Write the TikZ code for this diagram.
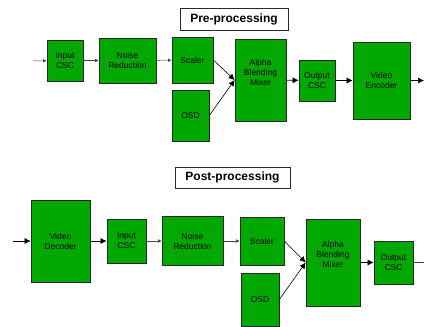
\documentclass[tikz,border=0pt]{standalone}
\usepackage{fontspec}
\setmainfont{Liberation Sans}
\usetikzlibrary{arrows.meta}
\definecolor{blockgreen}{RGB}{0, 168, 0}
\definecolor{edgegray}{RGB}{40, 40, 40}

\begin{document}
\begin{tikzpicture}[x=1pt, y=-1pt, font=\fontsize{8.5}{10}\selectfont,
        blk/.style={rectangle, draw=edgegray, line width=0.7pt, fill=blockgreen,
                    inner sep=1pt, align=center},
        ttl/.style={rectangle, draw=edgegray, line width=0.6pt, fill=white,
                    font=\fontsize{12}{14}\selectfont\bfseries},
        sarr/.style={-{Latex[length=3.5pt, width=3.5pt]}, line width=0.5pt, black!75},
        arr/.style={-{Latex[length=6pt, width=6pt]}, line width=0.6pt, black}]
        \useasboundingbox (0,0) rectangle (424,327);
        % pre-processing
        \node[ttl, minimum width=108pt, minimum height=22pt] (tA) at (234,19) {Pre-processing};
        \coordinate (srcA) at (33,61);
        \node[blk, minimum width=36pt, minimum height=41pt] (inA) at (65,60.5) {Input\\CSC};
        \node[blk, minimum width=57pt, minimum height=45pt] (nrA) at (127.5,60.5) {Noise\\Reduction};
        \node[blk, minimum width=41pt, minimum height=46pt] (scA) at (192.5,60) {Scaler};
        \node[blk, minimum width=37pt, minimum height=51pt] (osdA) at (190.5,115.5) {OSD};
        \node[blk, minimum width=51pt, minimum height=82pt] (mixA) at (260.5,80) {Alpha\\Blending\\Mixer\\[6pt]};
        \node[blk, minimum width=36pt, minimum height=41pt] (outA) at (317,80.5) {Output\\CSC};
        \node[blk, minimum width=57pt, minimum height=77pt] (encA) at (381.5,80.5) {Video\\Encoder};
        \coordinate (dstA) at (424,80.5);
        \foreach \a/\b in {srcA/inA, inA/nrA, nrA/scA}
            \draw[sarr] (\a) -- (\b);
        \draw[arr] (scA.east) -- (mixA.west);
        \draw[arr] (osdA.east) -- (mixA.west);
        \foreach \a/\b in {mixA/outA, outA/encA, encA/dstA}
            \draw[arr] (\a) -- (\b);
        % post-processing
        \node[ttl, minimum width=115pt, minimum height=21pt] (tB) at (232.5,177.5) {Post-processing};
        \coordinate (srcB) at (13,241);
        \node[blk, minimum width=59pt, minimum height=82pt] (decB) at (60.5,241) {Video\\Decoder};
        \node[blk, minimum width=39pt, minimum height=44pt] (inB) at (126.5,241) {Input\\CSC};
        \node[blk, minimum width=61pt, minimum height=49pt] (nrB) at (192.5,241) {Noise\\Reduction};
        \node[blk, minimum width=44pt, minimum height=48pt] (scB) at (262,241) {Scaler};
        \node[blk, minimum width=38pt, minimum height=53pt] (osdB) at (260,299.5) {OSD};
        \node[blk, minimum width=54pt, minimum height=87pt] (mixB) at (333,262.5) {Alpha\\Blending\\Mixer\\[6pt]};
        \node[blk, minimum width=39pt, minimum height=43pt] (outB) at (393.5,262.5) {Output\\CSC};
        \coordinate (dstB) at (424,262.5);
        \foreach \a/\b in {srcB/decB, decB/inB}
            \draw[arr] (\a) -- (\b);
        \foreach \a/\b in {inB/nrB, nrB/scB}
            \draw[sarr] (\a) -- (\b);
        \draw[arr] (scB.east) -- (mixB.west);
        \draw[arr] (osdB.east) -- (mixB.west);
        \draw[arr] (mixB) -- (outB);
        \draw[line width=0.6pt, black!75] (outB) -- (dstB);
    \end{tikzpicture}
\end{document}
